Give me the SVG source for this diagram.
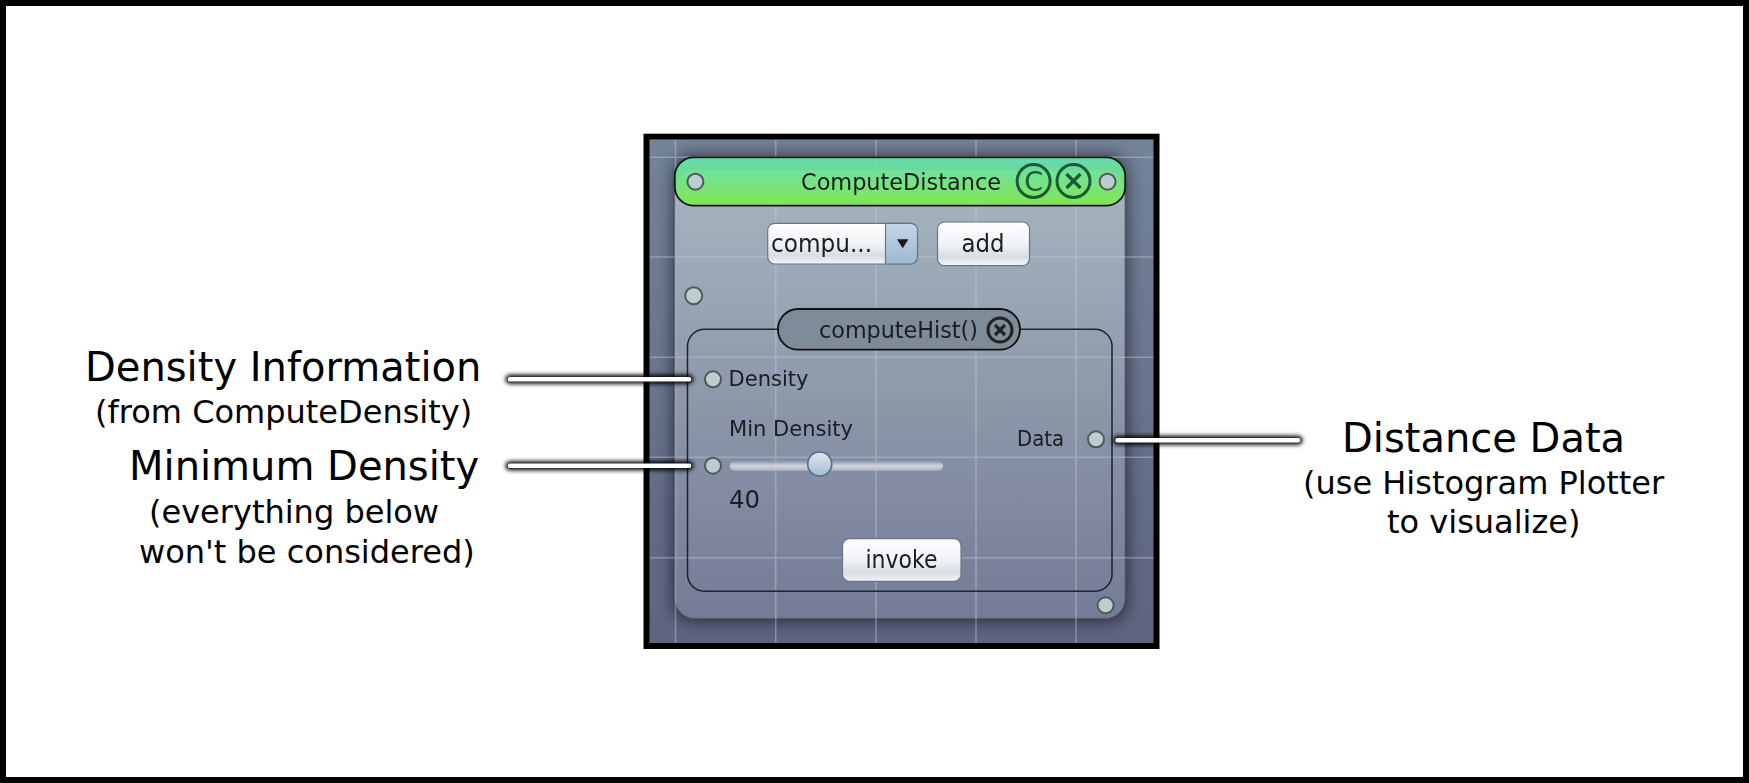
<svg xmlns="http://www.w3.org/2000/svg" width="1749" height="783" viewBox="0 0 1749 783">
<style>
text{font-family:"DejaVu Sans","Liberation Sans",sans-serif;fill:#000}
.big{font-size:40px}.sub{font-size:32px}
.ui{fill:#1a1d22;filter:url(#soft)}
.port{fill:#bccdcd;stroke:#4e5a5a;stroke-width:2}
.grid{stroke:#c6ccd4;stroke-opacity:.42;stroke-width:1.6;fill:none}
.btn{fill:url(#btnG);stroke:#6d7480;stroke-width:1.2}
.glow{stroke:#000;stroke-width:9;stroke-linecap:round;filter:url(#glow);fill:none}
.wire{stroke:#fff;stroke-width:4.5;stroke-linecap:round;fill:none}
</style>
<defs>
<filter id="soft" x="-5%" y="-20%" width="110%" height="140%"><feGaussianBlur stdDeviation=".5"/></filter>
<filter id="glow" x="-5%" y="-300%" width="110%" height="700%"><feGaussianBlur stdDeviation="2.2"/></filter>
<filter id="shadow" x="-10%" y="-10%" width="120%" height="120%"><feGaussianBlur stdDeviation="9"/></filter>
<linearGradient id="bgG" x1="0" y1="0" x2="0" y2="1"><stop offset="0" stop-color="#74839a"/><stop offset="1" stop-color="#5d6480"/></linearGradient>
<linearGradient id="panelG" x1="0" y1="0" x2="0" y2="1"><stop offset="0" stop-color="#a7b6c0"/><stop offset="1" stop-color="#747b96"/></linearGradient>
<linearGradient id="titleG" x1="0" y1="0" x2="0" y2="1"><stop offset="0" stop-color="#67e2b8"/><stop offset="1" stop-color="#7fe94c"/></linearGradient>
<linearGradient id="btnG" x1="0" y1="0" x2="0" y2="1"><stop offset="0" stop-color="#fdfdfe"/><stop offset=".5" stop-color="#f2f3f6"/><stop offset=".8" stop-color="#d9dce4"/><stop offset="1" stop-color="#f4f5f8"/></linearGradient>
<linearGradient id="arrowG" x1="0" y1="0" x2="0" y2="1"><stop offset="0" stop-color="#c6d6e4"/><stop offset="1" stop-color="#9db8d0"/></linearGradient>
<linearGradient id="thumbG" x1="0" y1="0" x2="0" y2="1"><stop offset="0" stop-color="#dfe8f0"/><stop offset="1" stop-color="#a3bccf"/></linearGradient>
<linearGradient id="trackG" x1="0" y1="0" x2="0" y2="1"><stop offset="0" stop-color="#8e98a8"/><stop offset=".5" stop-color="#dfe2e8"/><stop offset="1" stop-color="#b5bbc7"/></linearGradient>
<clipPath id="frameClip"><rect x="649" y="140" width="505" height="503.5"/></clipPath>
</defs>
<rect x="0" y="0" width="1749" height="783" fill="#fff"/>
<rect id="border" x="3" y="3" width="1743" height="777" fill="none" stroke="#000" stroke-width="6"/>
<g id="workspace">
<rect x="649" y="140" width="505" height="503.5" fill="url(#bgG)"/>
<g clip-path="url(#frameClip)">
<rect x="675" y="157" width="450" height="462" rx="16" fill="#000" opacity=".7" filter="url(#shadow)"/>
</g>
</g>
<g id="ComputeDistance">
<rect id="panel" x="674.8" y="170" width="450.4" height="448.7" rx="20" fill="url(#panelG)" stroke="#4a5068" stroke-width="1"/>
<g clip-path="url(#frameClip)">
<path class="grid" d="M675.5 140V643M775.7 140V643M875.9 140V643M976 140V643M1076 140V643M649 157.3H1154M649 257H1154M649 357.3H1154M649 457.3H1154M649 557.7H1154"/>
</g>
<rect x="674.8" y="157.3" width="450.4" height="48.4" rx="19" fill="url(#titleG)" fill-opacity=".95" stroke="#101810" stroke-width="1.8"/>
<text class="ui" x="801" y="190" font-size="23" textLength="200" lengthAdjust="spacingAndGlyphs">ComputeDistance</text>
<circle class="port" cx="695.4" cy="181.7" r="8"/>
<circle class="port" cx="1107.6" cy="181.7" r="8"/>
<g fill="none" stroke="#1b5a36" stroke-width="3">
<circle cx="1033.6" cy="181" r="16.5"/><circle cx="1073.5" cy="181" r="16.5"/>
<path d="M1066.5 174l14 14M1080.5 174l-14 14" stroke-width="3.4"/>
</g>
<text x="1033.6" y="190.5" font-size="27" text-anchor="middle" style="fill:#1b5a36">C</text>
</g>
<g id="combo">
<rect class="btn" x="767.7" y="223.3" width="149.8" height="40.7" rx="7"/>
<path d="M885.5 223.3H910.5a7 7 0 0 1 7 7V257a7 7 0 0 1-7 7H885.5Z" fill="url(#arrowG)" stroke="#5d7896" stroke-width="1.2"/>
<path d="M897 239.3h11.4l-5.7 9Z" fill="#1a1a1a"/>
<text class="ui" x="771" y="252.3" font-size="24" textLength="101" lengthAdjust="spacingAndGlyphs">compu...</text>
</g>
<g id="add">
<rect class="btn" x="937.5" y="222" width="92" height="43.7" rx="7"/>
<text class="ui" x="961.6" y="252.3" font-size="24" textLength="43" lengthAdjust="spacingAndGlyphs">add</text>
</g>
<g id="group-port"><circle class="port" cx="693.7" cy="295.7" r="8.5"/></g>
<g id="computeHist">
<rect x="687.5" y="329.3" width="424.5" height="262" rx="17" fill="none" stroke="#1c2230" stroke-width="1.5"/>
<rect x="778" y="309" width="242" height="40.7" rx="20" fill="#7e8b98" stroke="#111" stroke-width="1.8"/>
<text class="ui" x="819" y="338.3" font-size="23" textLength="159" lengthAdjust="spacingAndGlyphs">computeHist()</text>
<circle cx="1000" cy="330" r="12" fill="none" stroke="#222" stroke-width="3"/>
<path d="M995 325l10 10M1005 325l-10 10" stroke="#222" stroke-width="3.2"/>
</g>
<g id="Density"><circle class="port" cx="713" cy="379.3" r="8"/>
<text class="ui" x="728.5" y="386" font-size="21" textLength="80" lengthAdjust="spacingAndGlyphs">Density</text></g>
<g id="MinDensity">
<circle class="port" cx="713" cy="465.7" r="8"/>
<text class="ui" x="729" y="436" font-size="21" textLength="124" lengthAdjust="spacingAndGlyphs">Min Density</text>
<rect x="730" y="461" width="213" height="9.7" rx="4.8" fill="url(#trackG)" opacity=".85"/>
<circle cx="819.7" cy="464" r="12" fill="url(#thumbG)" stroke="#4d6c88" stroke-width="1.6"/>
<text class="ui" x="729" y="507.7" font-size="24" textLength="31" lengthAdjust="spacingAndGlyphs">40</text>
</g>
<g id="Data"><circle class="port" cx="1096" cy="439.3" r="8"/>
<text class="ui" x="1017" y="446" font-size="21" textLength="47" lengthAdjust="spacingAndGlyphs">Data</text></g>
<g id="invoke">
<rect class="btn" x="842.5" y="538.7" width="118.5" height="42.6" rx="7"/>
<text class="ui" x="865.5" y="568.3" font-size="24" textLength="72" lengthAdjust="spacingAndGlyphs">invoke</text>
</g>
<g id="corner-port"><circle class="port" cx="1105.6" cy="605.3" r="8"/></g>
<rect id="frame" x="646.5" y="136.7" width="510" height="509.3" fill="none" stroke="#000" stroke-width="6"/>
<g id="connectors">
<path class="glow" d="M510 379.3H689M510 465.7H689M1117.5 440.3H1298"/>
<path class="wire" d="M510 379.3H689M510 465.7H689M1117.5 440.3H1298"/>
</g>
<g id="label-density"><text class="big" x="85" y="381">Density Information</text>
<text class="sub" x="95" y="423">(from ComputeDensity)</text></g>
<g id="label-min"><text class="big" x="129" y="480">Minimum Density</text>
<text class="sub" x="149" y="523">(everything below</text>
<text class="sub" x="139" y="563">won't be considered)</text></g>
<g id="label-data"><text class="big" x="1342" y="452">Distance Data</text>
<text class="sub" x="1303" y="494">(use Histogram Plotter</text>
<text class="sub" x="1387" y="533">to visualize)</text></g>
</svg>
